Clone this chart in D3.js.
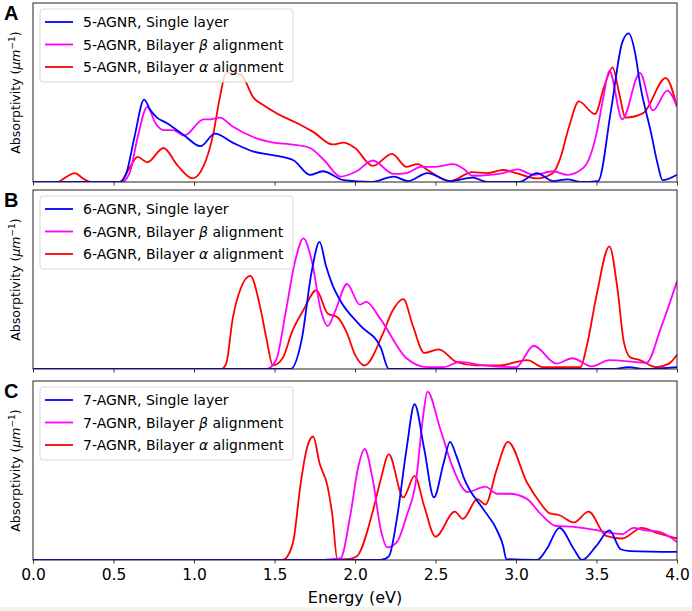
<!DOCTYPE html>
<html>
<head>
<meta charset="utf-8">
<script src="https://cdnjs.cloudflare.com/ajax/libs/d3/7.8.5/d3.min.js"></script>
<style>
  body { margin: 0; background: #fff; }
  svg { display: block; }
</style>
</head>
<body>
<div id="chart"></div>
<script>
// energy (eV), absorptivity (relative, 0..1 of panel height)
var agnr5Single = [[0,0],[0.54,0],[0.58,0.05],[0.63,0.25],[0.69,0.46],[0.73,0.40],[0.77,0.36],[0.83,0.33],[0.94,0.26],[1.04,0.20],[1.13,0.27],[1.24,0.22],[1.37,0.17],[1.49,0.15],[1.62,0.12],[1.72,0.04],[1.80,0.06],[1.93,0.01],[2.1,0],[2.24,0.03],[2.33,0.005],[2.45,0.05],[2.59,0.005],[2.73,0.025],[2.82,0],[3.02,0],[3.13,0.05],[3.23,0.005],[3.32,0.015],[3.4,0],[3.51,0.005],[3.59,0.40],[3.66,0.78],[3.70,0.83],[3.74,0.72],[3.77,0.55],[3.84,0.27],[3.88,0.10],[3.91,0.01],[4.0,0.04]];
var agnr5Beta = [[0,0],[0.55,0],[0.60,0.05],[0.65,0.25],[0.71,0.42],[0.76,0.33],[0.81,0.29],[0.87,0.29],[0.94,0.26],[1.06,0.35],[1.10,0.35],[1.16,0.36],[1.24,0.31],[1.37,0.25],[1.49,0.22],[1.60,0.21],[1.72,0.19],[1.81,0.12],[1.91,0.03],[2.01,0.06],[2.11,0.12],[2.24,0.045],[2.32,0.05],[2.41,0.085],[2.50,0.085],[2.61,0.10],[2.68,0.07],[2.73,0.035],[2.84,0.04],[2.92,0.05],[3.01,0.07],[3.11,0.04],[3.23,0.06],[3.32,0.04],[3.42,0.08],[3.50,0.27],[3.54,0.46],[3.58,0.62],[3.66,0.35],[3.77,0.61],[3.85,0.40],[3.94,0.51],[4.0,0.42]];
var agnr5Alpha = [[0,0],[0.15,0],[0.21,0.03],[0.26,0.05],[0.31,0.02],[0.36,0],[0.54,0],[0.60,0.08],[0.65,0.14],[0.71,0.11],[0.81,0.19],[0.90,0.09],[0.99,0.02],[1.06,0.09],[1.12,0.27],[1.16,0.47],[1.20,0.61],[1.29,0.60],[1.37,0.47],[1.43,0.43],[1.51,0.385],[1.66,0.32],[1.74,0.28],[1.86,0.21],[1.93,0.22],[2.0,0.19],[2.11,0.09],[2.23,0.157],[2.32,0.085],[2.39,0.10],[2.45,0.067],[2.59,0.005],[2.73,0.055],[2.82,0.05],[2.92,0.067],[3.0,0.05],[3.13,0.02],[3.23,0.05],[3.27,0.12],[3.33,0.31],[3.39,0.45],[3.49,0.38],[3.55,0.54],[3.60,0.64],[3.64,0.50],[3.68,0.36],[3.79,0.385],[3.93,0.58],[4.0,0.42]];

var agnr6Single = [[0,0],[1.60,0],[1.67,0.17],[1.73,0.54],[1.78,0.71],[1.82,0.575],[1.86,0.47],[1.91,0.38],[2.03,0.245],[2.16,0.12],[2.21,0],[3.6,0],[3.7,0.01],[3.8,0],[4.0,0.01]];
var agnr6Beta = [[0,0],[1.45,0],[1.51,0.05],[1.57,0.32],[1.63,0.61],[1.68,0.73],[1.73,0.61],[1.79,0.32],[1.83,0.24],[1.88,0.33],[1.95,0.475],[2.03,0.36],[2.07,0.375],[2.15,0.29],[2.32,0.06],[2.45,0.01],[2.55,0.01],[2.65,0.04],[2.80,0.02],[3.0,0.01],[3.11,0.13],[3.25,0.03],[3.35,0.06],[3.47,0.015],[3.58,0.05],[3.81,0.035],[3.90,0.23],[4.0,0.49]];
var agnr6Alpha = [[0,0],[1.17,0],[1.20,0.03],[1.24,0.28],[1.29,0.45],[1.35,0.52],[1.41,0.35],[1.45,0.17],[1.49,0.02],[1.55,0.06],[1.61,0.21],[1.68,0.33],[1.76,0.44],[1.83,0.31],[1.89,0.29],[1.95,0.20],[2.00,0.08],[2.06,0.02],[2.17,0.19],[2.23,0.32],[2.30,0.39],[2.36,0.24],[2.43,0.09],[2.52,0.11],[2.63,0.04],[2.75,0.02],[2.9,0.02],[3.07,0.05],[3.17,0.01],[3.40,0.01],[3.44,0.13],[3.50,0.41],[3.58,0.685],[3.63,0.45],[3.67,0.15],[3.71,0.065],[3.77,0.05],[3.87,0.01],[3.95,0.03],[4.0,0.08]];

var agnr7Single = [[0,0],[2.16,0],[2.21,0.02],[2.26,0.23],[2.32,0.62],[2.37,0.87],[2.43,0.62],[2.49,0.35],[2.55,0.54],[2.59,0.66],[2.63,0.58],[2.68,0.45],[2.80,0.28],[2.88,0.17],[2.92,0.08],[2.94,0.005],[3.13,0],[3.19,0.06],[3.27,0.18],[3.36,0.06],[3.41,0],[3.50,0.08],[3.58,0.165],[3.65,0.06],[3.71,0.05],[4.0,0.045]];
var agnr7Beta = [[0,0],[1.76,0],[1.86,0.005],[1.91,0.01],[1.97,0.245],[2.02,0.52],[2.06,0.62],[2.11,0.45],[2.16,0.17],[2.20,0.07],[2.26,0.10],[2.32,0.245],[2.38,0.45],[2.42,0.78],[2.45,0.94],[2.53,0.73],[2.61,0.51],[2.70,0.38],[2.81,0.41],[2.88,0.37],[2.96,0.37],[3.07,0.34],[3.15,0.26],[3.25,0.19],[3.36,0.185],[3.48,0.17],[3.60,0.15],[3.66,0.145],[3.73,0.18],[3.80,0.165],[3.88,0.16],[4.0,0.10]];
var agnr7Alpha = [[0,0],[1.55,0],[1.58,0.02],[1.62,0.12],[1.66,0.41],[1.70,0.62],[1.74,0.69],[1.78,0.54],[1.83,0.41],[1.86,0.245],[1.89,0.005],[1.95,0.005],[2.01,0.02],[2.11,0.27],[2.16,0.45],[2.21,0.59],[2.30,0.35],[2.37,0.47],[2.43,0.30],[2.50,0.13],[2.62,0.27],[2.67,0.23],[2.76,0.34],[2.81,0.31],[2.88,0.505],[2.95,0.66],[3.07,0.43],[3.15,0.32],[3.21,0.26],[3.27,0.25],[3.36,0.21],[3.45,0.27],[3.56,0.135],[3.66,0.12],[3.78,0.18],[3.88,0.15],[4.0,0.12]];

var panelLetters = ["A", "B", "C"];
var ribbons = ["5-AGNR", "6-AGNR", "7-AGNR"];
var seriesNames = ["Single layer", "Bilayer \u03b2 alignment", "Bilayer \u03b1 alignment"];
var seriesColors = ["#0000ff", "#ff00ff", "#ff0000"];
var xTicks = [0, 0.5, 1.0, 1.5, 2.0, 2.5, 3.0, 3.5, 4.0];

var panelData = [
  [agnr5Single, agnr5Beta, agnr5Alpha],
  [agnr6Single, agnr6Beta, agnr6Alpha],
  [agnr7Single, agnr7Beta, agnr7Alpha]
];

var width = 692, height = 611;
var left = 33, right = 677;
var panelTops = [3, 190, 381];
var panelH = 179;

var svg = d3.select("#chart").append("svg")
    .attr("width", width)
    .attr("height", height);

svg.append("rect").attr("x", 0).attr("y", 0).attr("width", width).attr("height", height).attr("fill", "#fff");
svg.append("rect").attr("x", 0).attr("y", 607).attr("width", width).attr("height", 4).attr("fill", "#f2f2f2");

var x = d3.scaleLinear().domain([0, 4]).range([left, right]);

panelData.forEach(function(series, p) {
  var top = panelTops[p];
  var bottom = top + panelH;
  var y = d3.scaleLinear().domain([0, 1]).range([bottom, top]);

  var g = svg.append("g");

  g.append("clipPath").attr("id", "clip" + p)
    .append("rect").attr("x", left).attr("y", top).attr("width", right - left).attr("height", panelH);

  var line = d3.line()
      .x(function(d) { return x(d[0]); })
      .y(function(d) { return y(d[1]); })
      .curve(d3.curveMonotoneX);

  // draw red first so blue sits on top like the reference
  [2, 1, 0].forEach(function(s) {
    g.append("path")
      .datum(series[s])
      .attr("clip-path", "url(#clip" + p + ")")
      .attr("fill", "none")
      .attr("stroke", seriesColors[s])
      .attr("stroke-width", 1.8)
      .attr("stroke-linejoin", "round")
      .attr("d", line);
  });

  // frame
  g.append("rect")
    .attr("x", left).attr("y", top)
    .attr("width", right - left).attr("height", panelH)
    .attr("fill", "none").attr("stroke", "#222").attr("stroke-width", 1);

  // x axis
  var axis = d3.axisBottom(x).tickValues(xTicks).tickSize(3.5).tickPadding(5)
      .tickFormat(p === 2 ? d3.format(".1f") : function() { return ""; });
  var ax = g.append("g").attr("transform", "translate(0," + bottom + ")").call(axis);
  ax.select(".domain").remove();
  ax.selectAll(".tick line").attr("stroke", "#222").attr("stroke-width", 0.9);
  ax.selectAll(".tick text")
    .attr("fill", "#000")
    .style("font-family", "DejaVu Sans")
    .style("font-size", "15.5px");

  // y label
  var yl = g.append("text")
    .attr("transform", "translate(20," + (top + panelH / 2) + ") rotate(-90)")
    .attr("text-anchor", "middle")
    .style("font-family", "DejaVu Sans")
    .style("font-size", "12.5px")
    .attr("fill", "#000");
  yl.append("tspan").text("Absorptivity (");
  yl.append("tspan").style("font-style", "italic").text("\u03bcm");
  yl.append("tspan").attr("dy", -5).style("font-size", "9px").text("\u22121");
  yl.append("tspan").attr("dy", 5).text(")");

  // panel letter
  g.append("text")
    .attr("x", 4).attr("y", top + 17)
    .style("font-family", "Liberation Sans, Arial, sans-serif")
    .style("font-weight", "bold")
    .style("font-size", "20px")
    .attr("fill", "#000")
    .text(panelLetters[p]);

  // legend
  var lg = g.append("g").attr("transform", "translate(40," + (top + 6) + ")");
  lg.append("rect")
    .attr("width", 253).attr("height", 73)
    .attr("rx", 3)
    .attr("fill", "#fff").attr("fill-opacity", 0.8)
    .attr("stroke", "#d8d8d8").attr("stroke-width", 1);
  seriesNames.forEach(function(name, s) {
    var ry = 13 + s * 22.5;
    lg.append("line")
      .attr("x1", 5).attr("x2", 33).attr("y1", ry).attr("y2", ry)
      .attr("stroke", seriesColors[s]).attr("stroke-width", 1.8);
    var t = lg.append("text")
      .attr("x", 43).attr("y", ry + 5)
      .style("font-family", "DejaVu Sans")
      .style("font-size", "14px")
      .attr("fill", "#000");
    var parts = name.split(/([\u03b1\u03b2])/);
    t.append("tspan").text(ribbons[p] + ", " + parts[0]);
    if (parts.length > 1) {
      t.append("tspan").style("font-style", "italic").text(parts[1]);
      t.append("tspan").text(parts[2]);
    }
  });
});

svg.append("text")
  .attr("x", (left + right) / 2).attr("y", 603)
  .attr("text-anchor", "middle")
  .style("font-family", "DejaVu Sans")
  .style("font-size", "16px")
  .attr("fill", "#000")
  .text("Energy (eV)");
</script>
</body>
</html>
